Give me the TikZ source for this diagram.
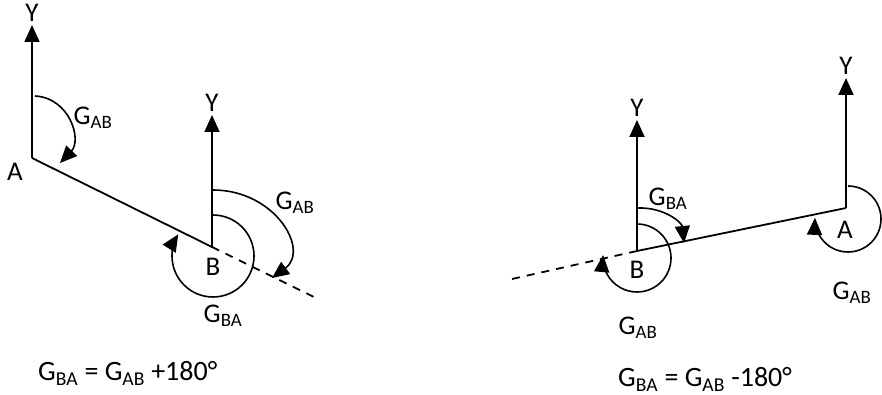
\documentclass[tikz,border=0pt]{standalone}
\usepackage{fontspec}
\setmainfont{Carlito}
\usetikzlibrary{arrows.meta}
\tikzset{
	axis/.style={line width=1.8pt,-{Triangle[length=17pt,width=15pt]}},
	bearing/.style={line width=1.6pt,-{Triangle[length=17pt,width=15pt]}},
	lbl/.style={font=\fontsize{27}{32}\selectfont,inner sep=0pt},
}
\begin{document}
\begin{tikzpicture}[x=1pt,y=1pt]
\useasboundingbox (0,0) rectangle (882,395);
\coordinate (A1) at (32,237);
\coordinate (B1) at (212,148);
\coordinate (E1) at (318,96);
\coordinate (A2) at (846,187);
\coordinate (B2) at (637,144);
\coordinate (E2) at (512,116);
\foreach \p/\h in {A1/133,B1/132,A2/130,B2/131} {
	\path (\p) ++(0,\h) coordinate (t\p);
	\draw[axis] (\p) -- (t\p);
	\node[lbl,above=3pt] (y\p) at (t\p) {Y};
}
\draw[line width=1.8pt] (A1) -- (B1);
\draw[line width=1.8pt,dash pattern=on 8pt off 7pt] (B1) -- (E1);
\draw[line width=1.8pt] (B2) -- (A2);
\draw[line width=1.8pt,dash pattern=on 8pt off 7pt] (B2) -- (E2);
\draw[bearing] (35,299) .. controls (70,297) and (82,255) .. (60,232);
\draw[bearing] (213,205) .. controls (275,205) and (310,145) .. (272,117);
\draw[bearing] (B1) ++(1,32) arc[start angle=90,end angle=-212,radius=41];
\draw[bearing] (637,187) .. controls (665,188) and (682,172) .. (684,152);
\draw[bearing] (B2) ++(0,27) arc[start angle=90,end angle=-185,radius=34];
\draw[bearing] (A2) ++(2,22) arc[start angle=90,end angle=-182,radius=33];
\node[lbl] (nA1) at (15,223) {A};
\node[lbl] (nB1) at (213,128) {B};
\node[lbl] (nA2) at (845,165) {A};
\node[lbl] (nB2) at (637,125) {B};
\node[lbl] (gA1) at (93,277) {G\textsubscript{AB}};
\node[lbl] (gB1) at (295,192) {G\textsubscript{AB}};
\node[lbl] (gC1) at (223,79) {G\textsubscript{BA}};
\node[lbl] (gB2) at (668,196) {G\textsubscript{BA}};
\node[lbl] (gC2) at (638,67) {G\textsubscript{AB}};
\node[lbl] (gA2) at (852,102) {G\textsubscript{AB}};
\node[lbl,font=\fontsize{28}{33}\selectfont,anchor=base west] (f1) at (38,14) {G\textsubscript{BA} = G\textsubscript{AB} +180°};
\node[lbl,font=\fontsize{28}{33}\selectfont,anchor=base west] (f2) at (618,8) {G\textsubscript{BA} = G\textsubscript{AB} -180°};
\end{tikzpicture}
\end{document}
